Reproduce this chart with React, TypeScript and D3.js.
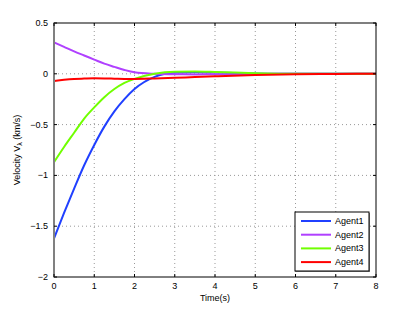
import React from 'react'
import * as d3 from 'd3'

const time = [0, 0.25, 0.5, 0.75, 1, 1.25, 1.5, 1.75, 2, 2.5, 3, 3.5, 4, 5, 6, 7, 8]
const agent1 = [-1.62, -1.37, -1.13, -0.9, -0.7, -0.52, -0.37, -0.25, -0.15, -0.03, 0.01, 0.015, 0.012, 0.004, 0, 0, 0]
const agent2 = [0.31, 0.265, 0.22, 0.18, 0.14, 0.1, 0.068, 0.038, 0.015, 0, -0.005, -0.006, -0.005, -0.002, 0, 0, 0]
const agent3 = [-0.87, -0.72, -0.58, -0.44, -0.33, -0.23, -0.15, -0.09, -0.05, 0, 0.02, 0.022, 0.018, 0.006, 0, 0, 0]
const agent4 = [-0.07, -0.058, -0.05, -0.047, -0.045, -0.046, -0.048, -0.05, -0.05, -0.046, -0.04, -0.032, -0.025, -0.012, -0.004, -0.001, 0]

const xTicks = [0, 1, 2, 3, 4, 5, 6, 7, 8]
const yTicks = [0.5, 0, -0.5, -1, -1.5, -2]

const series = [
  { name: 'Agent1', color: '#2040ff', values: agent1 },
  { name: 'Agent2', color: '#b040ff', values: agent2 },
  { name: 'Agent3', color: '#70ff00', values: agent3 },
  { name: 'Agent4', color: '#ff0000', values: agent4 },
]

const W = 415
const H = 312
const [top, right, bottom, left] = [23, 39, 35, 54]
const font = 'Liberation Sans, Arial, sans-serif'

export default function App() {
  const x = d3.scaleLinear().domain([0, 8]).range([left, W - right])
  const y = d3.scaleLinear().domain([-2, 0.5]).range([H - bottom, top])
  const line = d3.line<number>()
    .x((_, i) => x(time[i]))
    .y(d => y(d))
    .curve(d3.curveMonotoneX)

  const fmt = (v: number) => (v < 0 ? '\u2212' + Math.abs(v) : String(v))

  // legend
  const lx = 295, ly = 212, lw = 74, lh = 59

  return (
    <svg width={W} height={H} style={{ position: 'absolute', left: 0, top: 0, background: '#fff' }}>
      {/* grid */}
      {xTicks.slice(1, -1).map(t => (
        <line key={'gx' + t} x1={x(t)} x2={x(t)} y1={top} y2={H - bottom}
          stroke="#999" strokeDasharray="1,3" strokeWidth={1} />
      ))}
      {yTicks.slice(1, -1).map(t => (
        <line key={'gy' + t} x1={left} x2={W - right} y1={y(t)} y2={y(t)}
          stroke="#999" strokeDasharray="1,3" strokeWidth={1} />
      ))}

      {/* lines */}
      {series.map(s => (
        <path key={s.name} d={line(s.values) || ''} fill="none" stroke={s.color} strokeWidth={2} />
      ))}

      {/* axis box */}
      <rect x={left} y={top} width={W - right - left} height={H - bottom - top} fill="none" stroke="#000" strokeWidth={1} />
      <line x1={left} x2={left} y1={top} y2={H - bottom} stroke="#808080" strokeWidth={2} />

      {/* ticks */}
      {xTicks.map(t => (
        <g key={'xt' + t}>
          <line x1={x(t)} x2={x(t)} y1={H - bottom} y2={H - bottom - 3} stroke="#000" />
          <line x1={x(t)} x2={x(t)} y1={top} y2={top + 3} stroke="#000" />
          <text x={x(t)} y={H - bottom + 12} textAnchor="middle" fontSize={9} fontFamily={font}>{t}</text>
        </g>
      ))}
      {yTicks.map(t => (
        <g key={'yt' + t}>
          <line x1={left} x2={left + 3} y1={y(t)} y2={y(t)} stroke="#000" />
          <line x1={W - right} x2={W - right - 3} y1={y(t)} y2={y(t)} stroke="#000" />
          <text x={left - 6} y={y(t) + 3} textAnchor="end" fontSize={9} fontFamily={font}>{fmt(t)}</text>
        </g>
      ))}

      {/* axis labels */}
      <text x={(left + W - right) / 2} y={H - 11} textAnchor="middle" fontSize={9} fontFamily={font}>Time(s)</text>
      <text transform={`translate(20,${(top + H - bottom) / 2}) rotate(-90)`} textAnchor="middle" fontSize={9} fontFamily={font}>
        Velocity V<tspan dy={2} fontSize={7}>λ</tspan><tspan dy={-2}> (km/s)</tspan>
      </text>

      {/* legend */}
      <rect x={lx + 1} y={ly + 1} width={lw} height={lh} fill="#888" />
      <rect x={lx} y={ly} width={lw} height={lh} fill="#fff" stroke="#000" strokeWidth={1} />
      {series.map((s, i) => (
        <g key={'lg' + s.name}>
          <line x1={lx + 6} x2={lx + 36} y1={ly + 9 + i * 13.7} y2={ly + 9 + i * 13.7} stroke={s.color} strokeWidth={2} />
          <text x={lx + 40} y={ly + 12 + i * 13.7} fontSize={9} fontFamily={font}>{s.name}</text>
        </g>
      ))}
    </svg>
  )
}
